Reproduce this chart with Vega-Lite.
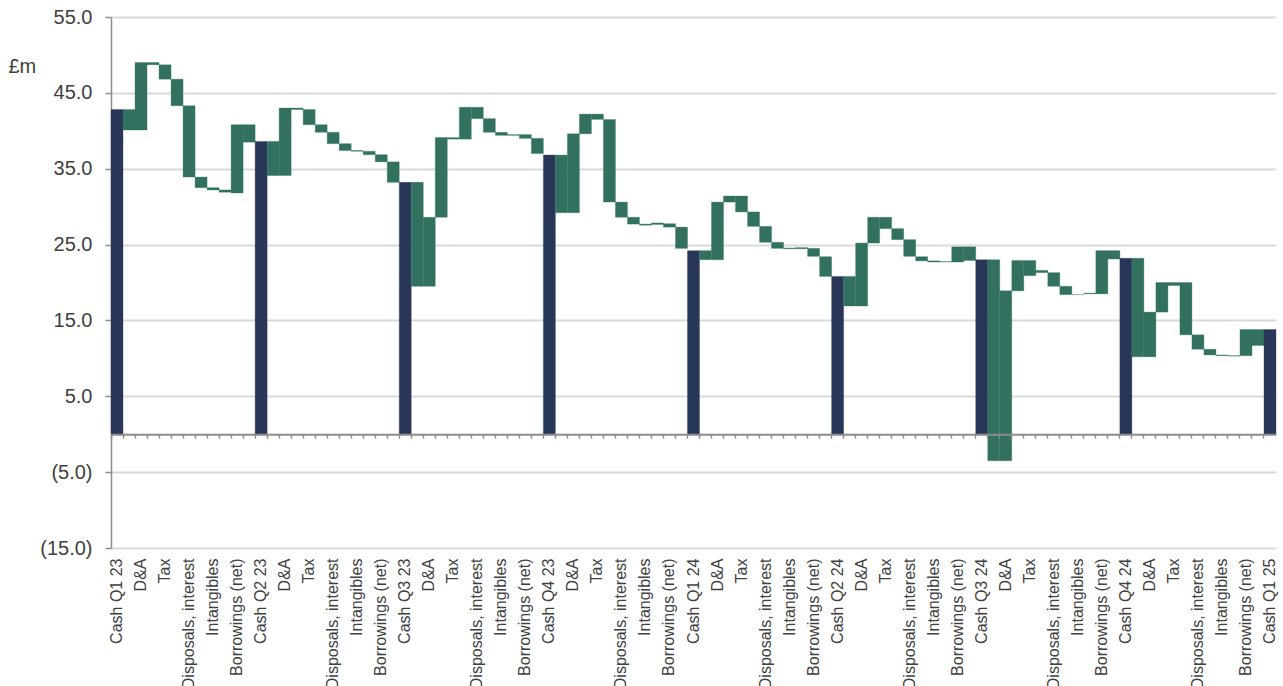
{
  "$schema": "https://vega.github.io/schema/vega-lite/v6.json",
  "width": 1165,
  "height": 531,
  "autosize": {"type": "none"},
  "padding": {"left": 111, "top": 17, "right": 7, "bottom": 138},
  "background": "white",
  "config": {"view": {"stroke": null}, "font": "Liberation Sans"},
  "data": {"values": [
    {"c":"00|Cash Q1 23","t":"cash","a":0,"b":42.8},
    {"c":"01|","t":"move","a":42.8,"b":40.1},
    {"c":"02|D&A","t":"move","a":40.1,"b":49.0},
    {"c":"03|","t":"move","a":49.0,"b":48.7},
    {"c":"04|Tax","t":"move","a":48.7,"b":46.8},
    {"c":"05|","t":"move","a":46.8,"b":43.3},
    {"c":"06|Disposals, interest","t":"move","a":43.3,"b":33.9},
    {"c":"07|","t":"move","a":33.9,"b":32.5},
    {"c":"08|Intangibles","t":"move","a":32.5,"b":32.2},
    {"c":"09|","t":"move","a":32.2,"b":31.9},
    {"c":"10|Borrowings (net)","t":"move","a":31.8,"b":40.8},
    {"c":"11|","t":"move","a":40.8,"b":38.5},
    {"c":"12|Cash Q2 23","t":"cash","a":0,"b":38.6},
    {"c":"13|","t":"move","a":38.6,"b":34.1},
    {"c":"14|D&A","t":"move","a":34.1,"b":43.0},
    {"c":"15|","t":"move","a":43.0,"b":42.8},
    {"c":"16|Tax","t":"move","a":42.8,"b":40.8},
    {"c":"17|","t":"move","a":40.8,"b":39.8},
    {"c":"18|Disposals, interest","t":"move","a":39.8,"b":38.3},
    {"c":"19|","t":"move","a":38.3,"b":37.4},
    {"c":"20|Intangibles","t":"move","a":37.4,"b":37.3},
    {"c":"21|","t":"move","a":37.3,"b":36.85},
    {"c":"22|Borrowings (net)","t":"move","a":36.85,"b":35.9},
    {"c":"23|","t":"move","a":35.9,"b":33.2},
    {"c":"24|Cash Q3 23","t":"cash","a":0,"b":33.2},
    {"c":"25|","t":"move","a":33.2,"b":19.5},
    {"c":"26|D&A","t":"move","a":19.5,"b":28.6},
    {"c":"27|","t":"move","a":28.6,"b":39.1},
    {"c":"28|Tax","t":"move","a":39.1,"b":38.9},
    {"c":"29|","t":"move","a":38.9,"b":43.1},
    {"c":"30|Disposals, interest","t":"move","a":43.1,"b":41.6},
    {"c":"31|","t":"move","a":41.6,"b":39.8},
    {"c":"32|Intangibles","t":"move","a":39.8,"b":39.4},
    {"c":"33|","t":"move","a":39.5,"b":39.4},
    {"c":"34|Borrowings (net)","t":"move","a":39.5,"b":39.0},
    {"c":"35|","t":"move","a":39.0,"b":37.0},
    {"c":"36|Cash Q4 23","t":"cash","a":0,"b":36.8},
    {"c":"37|","t":"move","a":36.8,"b":29.2},
    {"c":"38|D&A","t":"move","a":29.2,"b":39.6},
    {"c":"39|","t":"move","a":39.6,"b":42.2},
    {"c":"40|Tax","t":"move","a":42.2,"b":41.5},
    {"c":"41|","t":"move","a":41.5,"b":30.6},
    {"c":"42|Disposals, interest","t":"move","a":30.6,"b":28.6},
    {"c":"43|","t":"move","a":28.6,"b":27.7},
    {"c":"44|Intangibles","t":"move","a":27.7,"b":27.55},
    {"c":"45|","t":"move","a":27.65,"b":27.85},
    {"c":"46|Borrowings (net)","t":"move","a":27.75,"b":27.3},
    {"c":"47|","t":"move","a":27.3,"b":24.5},
    {"c":"48|Cash Q1 24","t":"cash","a":0,"b":24.2},
    {"c":"49|","t":"move","a":24.2,"b":23.0},
    {"c":"50|D&A","t":"move","a":23.0,"b":30.6},
    {"c":"51|","t":"move","a":30.6,"b":31.4},
    {"c":"52|Tax","t":"move","a":31.4,"b":29.3},
    {"c":"53|","t":"move","a":29.3,"b":27.4},
    {"c":"54|Disposals, interest","t":"move","a":27.4,"b":25.3},
    {"c":"55|","t":"move","a":25.3,"b":24.5},
    {"c":"56|Intangibles","t":"move","a":24.55,"b":24.45},
    {"c":"57|","t":"move","a":24.45,"b":24.6},
    {"c":"58|Borrowings (net)","t":"move","a":24.5,"b":23.45},
    {"c":"59|","t":"move","a":23.4,"b":20.8},
    {"c":"60|Cash Q2 24","t":"cash","a":0,"b":20.8},
    {"c":"61|","t":"move","a":20.8,"b":16.9},
    {"c":"62|D&A","t":"move","a":16.9,"b":25.2},
    {"c":"63|","t":"move","a":25.2,"b":28.6},
    {"c":"64|Tax","t":"move","a":28.6,"b":27.1},
    {"c":"65|","t":"move","a":27.1,"b":25.65},
    {"c":"66|Disposals, interest","t":"move","a":25.65,"b":23.45},
    {"c":"67|","t":"move","a":23.4,"b":22.85},
    {"c":"68|Intangibles","t":"move","a":22.85,"b":22.7},
    {"c":"69|","t":"move","a":22.75,"b":22.7},
    {"c":"70|Borrowings (net)","t":"move","a":22.7,"b":24.7},
    {"c":"71|","t":"move","a":24.7,"b":22.9},
    {"c":"72|Cash Q3 24","t":"cash","a":0,"b":23.0},
    {"c":"73|","t":"move","a":23.0,"b":-3.5},
    {"c":"74|D&A","t":"move","a":-3.5,"b":18.9},
    {"c":"75|","t":"move","a":18.9,"b":22.9},
    {"c":"76|Tax","t":"move","a":22.9,"b":20.9},
    {"c":"77|","t":"move","a":21.6,"b":21.3},
    {"c":"78|Disposals, interest","t":"move","a":21.3,"b":19.5},
    {"c":"79|","t":"move","a":19.5,"b":18.4},
    {"c":"80|Intangibles","t":"none","a":18.4,"b":18.4},
    {"c":"81|","t":"move","a":18.6,"b":18.5},
    {"c":"82|Borrowings (net)","t":"move","a":18.5,"b":24.2},
    {"c":"83|","t":"move","a":24.2,"b":23.1},
    {"c":"84|Cash Q4 24","t":"cash","a":0,"b":23.2},
    {"c":"85|","t":"move","a":23.2,"b":10.2},
    {"c":"86|D&A","t":"move","a":10.2,"b":16.1},
    {"c":"87|","t":"move","a":16.1,"b":20.0},
    {"c":"88|Tax","t":"move","a":20.0,"b":19.6},
    {"c":"89|","t":"move","a":20.0,"b":13.1},
    {"c":"90|Disposals, interest","t":"move","a":13.1,"b":11.2},
    {"c":"91|","t":"move","a":11.2,"b":10.45},
    {"c":"92|Intangibles","t":"move","a":10.45,"b":10.35},
    {"c":"93|","t":"move","a":10.35,"b":10.3},
    {"c":"94|Borrowings (net)","t":"move","a":10.35,"b":13.8},
    {"c":"95|","t":"move","a":13.8,"b":11.7},
    {"c":"96|Cash Q1 25","t":"cash","a":0,"b":13.8}
  ]},
  "layer": [
    {
      "mark": {"type": "bar", "strokeWidth": 0.6, "strokeOpacity": 0.55},
      "encoding": {
        "x": {
          "field": "c", "type": "nominal", "sort": null,
          "scale": {"paddingInner": 0, "paddingOuter": 0},
          "axis": {
            "orient": "bottom", "title": null, "domain": false, "ticks": false, "grid": false,
            "labelAngle": -90, "labelPadding": 10, "labelFontSize": 16, "labelColor": "#404040",
            "labelFont": "Liberation Sans", "labelOverlap": false, "labelBound": false,
            "labelExpr": "split(datum.value, '|')[1]"
          }
        },
        "y": {
          "field": "a", "type": "quantitative",
          "scale": {"domain": [-15, 55], "nice": false, "zero": false},
          "axis": {
            "values": [-15, -5, 5, 15, 25, 35, 45, 55],
            "labelExpr": "datum.value < 0 ? '(' + format(-datum.value, '.1f') + ')' : format(datum.value, '.1f')",
            "labelFontSize": 20, "labelColor": "#404040", "labelFont": "Liberation Sans", "labelPadding": 13,
            "grid": true, "gridColor": "#d9d9d9", "gridWidth": 1.8,
            "domain": true, "domainColor": "#8c8c8c", "domainWidth": 1.5,
            "ticks": true, "tickColor": "#8c8c8c", "tickSize": 6, "tickWidth": 1.5,
            "title": "£m", "titleAngle": 0, "titleAlign": "left", "titleBaseline": "alphabetic",
            "titleX": -103, "titleY": 55, "titleFontSize": 20, "titleFontWeight": "normal",
            "titleColor": "#404040", "titleFont": "Liberation Sans"
          }
        },
        "y2": {"field": "b"},
        "color": {
          "field": "t", "type": "nominal",
          "scale": {"domain": ["cash", "move", "none"], "range": ["#283759", "#327160", "#327160"]},
          "legend": null
        },
        "stroke": {
          "field": "t", "type": "nominal",
          "scale": {"domain": ["cash", "move", "none"], "range": ["#283759", "#327160", "#327160"]},
          "legend": null
        },
        "opacity": {
          "field": "t", "type": "nominal",
          "scale": {"domain": ["cash", "move", "none"], "range": [1, 1, 0]},
          "legend": null
        }
      }
    },
    {
      "mark": {"type": "point", "opacity": 0},
      "encoding": {
        "x": {
          "field": "c", "type": "nominal", "sort": null,
          "axis": {
            "orient": "bottom", "offset": -113.8, "title": null, "labels": false, "grid": false,
            "domain": true, "domainColor": "#8c8c8c", "domainWidth": 2,
            "ticks": true, "tickColor": "#8c8c8c", "tickSize": 4, "tickWidth": 1.5,
            "bandPosition": 0, "zindex": 1
          }
        },
        "y": {"datum": 0, "type": "quantitative"}
      }
    }
  ],
  "resolve": {"axis": {"x": "independent"}}
}
